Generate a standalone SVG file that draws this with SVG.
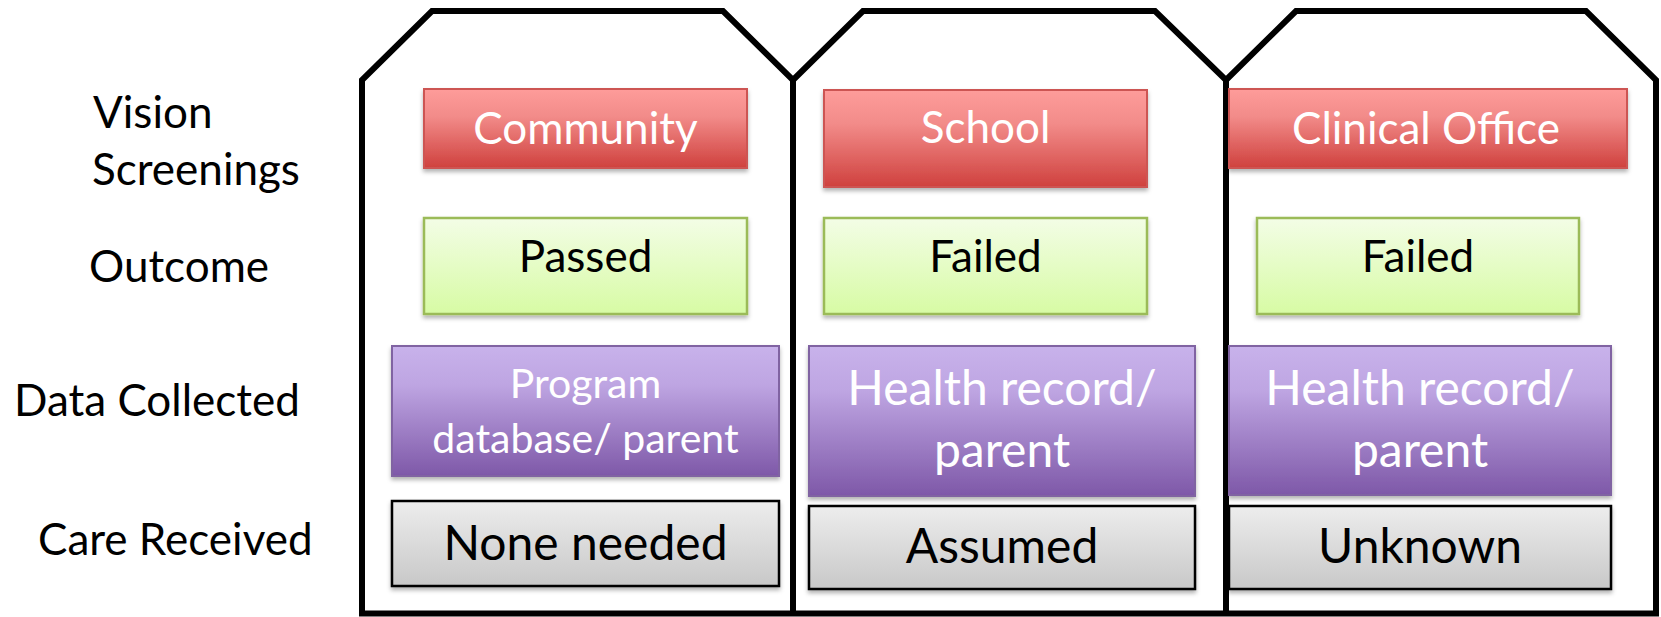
<svg xmlns="http://www.w3.org/2000/svg" width="1661" height="617" viewBox="0 0 1661 617">
<defs>
<linearGradient id="gRed" x1="0" y1="0" x2="0" y2="1">
<stop offset="0" stop-color="#fe9c9a"/>
<stop offset="0.35" stop-color="#f28b89"/>
<stop offset="1" stop-color="#cf413e"/>
</linearGradient>
<linearGradient id="gGreen" x1="0" y1="0" x2="0" y2="1">
<stop offset="0" stop-color="#f3fde6"/>
<stop offset="1" stop-color="#d7fba4"/>
</linearGradient>
<linearGradient id="gPurple" x1="0" y1="0" x2="0" y2="1">
<stop offset="0" stop-color="#c8b2eb"/>
<stop offset="0.3" stop-color="#bea5e2"/>
<stop offset="1" stop-color="#7e58a8"/>
</linearGradient>
<linearGradient id="gGray" x1="0" y1="0" x2="0" y2="1">
<stop offset="0" stop-color="#ededed"/>
<stop offset="1" stop-color="#c8c8c8"/>
</linearGradient>
<filter id="shadow" x="-5%" y="-10%" width="110%" height="130%">
<feDropShadow dx="0" dy="3" stdDeviation="2" flood-color="#000" flood-opacity="0.3"/>
</filter>
</defs>
<style>
.panel{fill:none;stroke:#000;stroke-width:6;stroke-linejoin:miter}
.red{fill:url(#gRed);stroke:#cd5552;stroke-width:2;filter:url(#shadow)}
.green{fill:url(#gGreen);stroke:#9bbb59;stroke-width:2.5;filter:url(#shadow)}
.purple{fill:url(#gPurple);stroke:#8064a2;stroke-width:2;filter:url(#shadow)}
.gray{fill:url(#gGray);stroke:#000;stroke-width:2.5;filter:url(#shadow)}
text{font-family:Lato,"Open Sans","Liberation Sans",sans-serif}
.lbl{font-size:44px;fill:#000}
.w{fill:#fff;text-anchor:middle}
.b{fill:#000;text-anchor:middle}
.s44{font-size:44px}
.s41{font-size:41px}
.s48{font-size:48px}
</style>
<rect width="1661" height="617" fill="#fff"/>
<g id="panels">
<path class="panel" d="M362,613.5 V80 L432,11 H723 L793,80 V613.5"/>
<path class="panel" d="M793,80 L863,11 H1155 L1226,80 V613.5"/>
<path class="panel" d="M1226,80 L1296,11 H1586 L1656,80 V613.5"/>
<path class="panel" d="M359,613.5 H1659"/>
</g>
<g id="row-labels">
<text class="lbl" x="93" y="128">Vision</text>
<text class="lbl" x="92" y="185">Screenings</text>
<text class="lbl" x="89" y="282">Outcome</text>
<text class="lbl" x="14" y="416">Data Collected</text>
<text class="lbl" x="38" y="555">Care Received</text>
</g>
<g id="community">
<rect class="red" x="424" y="89" width="323" height="79"/>
<text class="w s44" x="585.5" y="144">Community</text>
</g>
<g id="passed">
<rect class="green" x="424" y="218" width="323" height="96"/>
<text class="b s44" x="585.5" y="272">Passed</text>
</g>
<g id="program-database">
<rect class="purple" x="392" y="346" width="387" height="130"/>
<text class="w s41" x="585.5" y="398">Program</text>
<text class="w s41" x="585.5" y="453">database/ parent</text>
</g>
<g id="none-needed">
<rect class="gray" x="392" y="501" width="387" height="85"/>
<text class="b s48" x="585.5" y="560">None needed</text>
</g>
<g id="school">
<rect class="red" x="824" y="90" width="323" height="97"/>
<text class="w s44" x="985.5" y="143">School</text>
</g>
<g id="failed-school">
<rect class="green" x="824" y="218" width="323" height="96"/>
<text class="b s44" x="985.5" y="272">Failed</text>
</g>
<g id="health-record-school">
<rect class="purple" x="809" y="346" width="386" height="150"/>
<text class="w s48" x="1002" y="405">Health record/</text>
<text class="w s48" x="1002" y="467">parent</text>
</g>
<g id="assumed">
<rect class="gray" x="809" y="506" width="386" height="83"/>
<text class="b s48" x="1002" y="563">Assumed</text>
</g>
<g id="clinical-office">
<rect class="red" x="1229" y="89" width="398" height="79"/>
<text class="w s44" x="1426" y="144">Clinical Office</text>
</g>
<g id="failed-clinical">
<rect class="green" x="1257" y="218" width="322" height="96"/>
<text class="b s44" x="1418" y="272">Failed</text>
</g>
<g id="health-record-clinical">
<rect class="purple" x="1229" y="346" width="382" height="149"/>
<text class="w s48" x="1420" y="405">Health record/</text>
<text class="w s48" x="1420" y="467">parent</text>
</g>
<g id="unknown">
<rect class="gray" x="1229" y="506" width="382" height="83"/>
<text class="b s48" x="1420" y="563">Unknown</text>
</g>
</svg>
